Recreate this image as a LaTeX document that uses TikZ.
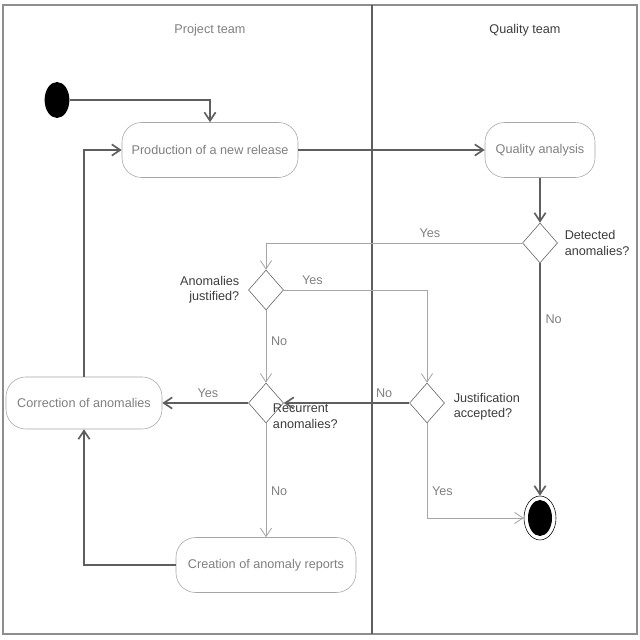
\documentclass[tikz,border=0pt]{standalone}
\usepackage{fontspec}
\setmainfont{Liberation Sans}
\usepackage{tikz}
\usetikzlibrary{positioning, arrows.meta, shapes.geometric}
\definecolor{lineagris}{HTML}{5E5E5E}
\definecolor{ramagris}{HTML}{A6A6A6}
\definecolor{textogris}{HTML}{808080}
\definecolor{preguntagris}{HTML}{3C3C3C}

\begin{document}
\begin{tikzpicture}[
    every node/.style={font=\small, text=textogris},
    actividad/.style={draw=ramagris, fill=white, rounded corners=14pt,
        minimum height=1.375cm, align=center},
    decision/.style={diamond, draw=lineagris, fill=white, minimum width=0.875cm,
        minimum height=1cm, inner sep=0pt},
    pregunta/.style={text=preguntagris, align=left},
    inicio/.style={ellipse, fill=black, minimum width=0.62cm, minimum height=0.9cm},
    fin/.style={ellipse, draw=black, fill=white, minimum width=0.8cm, minimum height=1.1cm,
        path picture={\fill[black] (path picture bounding box.center) ellipse (0.3cm and 0.45cm);}},
    flecha/.style={-{Straight Barb[length=6pt, width=8pt]}, line width=1.2pt, color=lineagris},
    rama/.style={-{Straight Barb[length=6pt, width=8pt]}, line width=0.6pt, color=ramagris}
]
\useasboundingbox (0,0) rectangle (16,16);
\draw[lineagris!70, line width=1.5pt] (0.08,0.15) rectangle (15.92,15.88);
\draw[lineagris, line width=0.8pt] (9.3,0.15) -- (9.3,15.88);

\node (carril1) at (5.25,15.25) {Project team};
\node[text=preguntagris] (carril2) at (13.125,15.25) {Quality team};

\node[inicio] (ini) at (1.425,13.5) {};
\node[actividad, minimum width=4.4cm] (prod) at (5.25,12.25) {Production of a new release};
\node[actividad, minimum width=2.75cm] (qa) at (13.5,12.25) {Quality analysis};
\node[decision] (det) at (13.5,9.925) {};
\node[pregunta, right=0.05cm of det] (q-det) {Detected\\anomalies?};
\node[decision] (ajus) at (6.65,8.75) {};
\node[pregunta, align=right, left=0.1cm of ajus] (q-ajus) {Anomalies\\justified?};
\node[decision] (jacc) at (10.675,5.925) {};
\node[pregunta, right=0.1cm of jacc, yshift=-0.1cm] (q-jacc) {Justification\\accepted?};
\node[decision] (rec) at (6.65,5.925) {};
\node[pregunta, anchor=north west] (q-rec) at ([xshift=0.05cm, yshift=0.1cm]rec.center) {Recurrent\\anomalies?};
\node[actividad, minimum width=3.9cm, minimum height=1.3cm] (corr) at (2.1,5.925) {Correction of anomalies};
\node[actividad, minimum width=4.5cm] (crea) at (6.65,1.875) {Creation of anomaly reports};
\node[fin] (final) at (13.5,3.05) {};

\draw[flecha] (ini.east) -| (prod.north);
\draw[flecha] (prod) -- (qa);
\draw[flecha] (qa) -- (det);
\draw[rama] (det.west) -| node[pos=0.18, above] {Yes} (ajus.north);
\draw[flecha] (det.south) -- node[pos=0.24, right] {No} (final.north);
\draw[rama] (ajus.east) -| node[pos=0.1, above] {Yes} (jacc.north);
\draw[rama] (ajus.south) -- node[pos=0.43, right] {No} (rec.north);
\draw[flecha] (jacc.west) -- node[pos=0.2, above] {No} (rec.east);
\draw[rama] (jacc.south) |- node[pos=0.36, right] {Yes} (final.west);
\draw[flecha] (rec.west) -- node[pos=0.47, above] {Yes} (corr.east);
\draw[rama] (rec.south) -- node[pos=0.6, right] {No} (crea.north);
\draw[flecha] (crea.west) -| (corr.south);
\draw[flecha] (corr.north) |- (prod.west);
\end{tikzpicture}
\end{document}
